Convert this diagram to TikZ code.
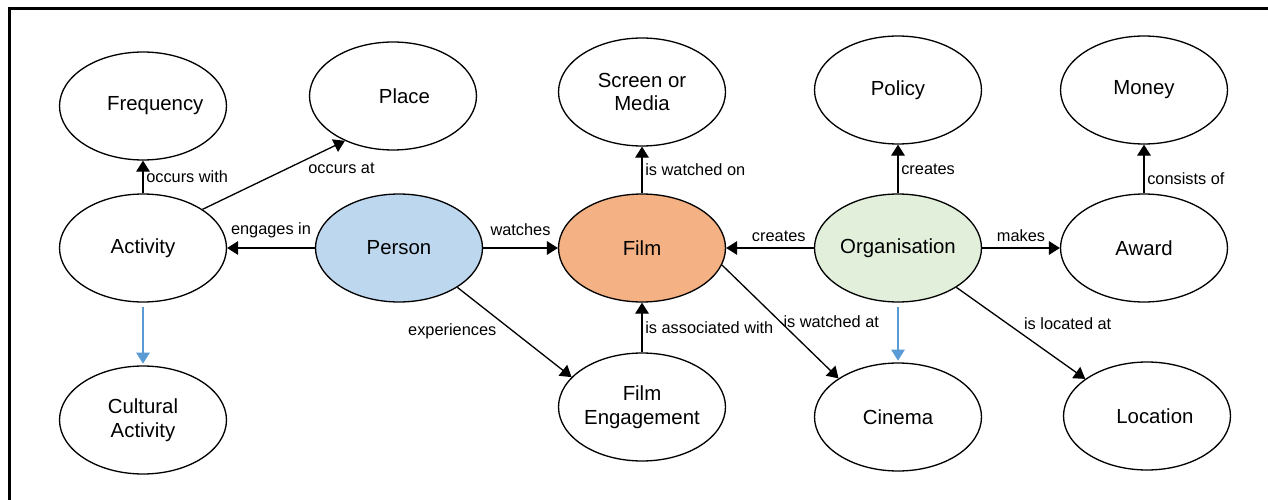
\documentclass[tikz,border=0pt]{standalone}
\usepackage{fontspec}
\setmainfont{Liberation Sans}
\usetikzlibrary{shapes.geometric,arrows.meta}
\definecolor{personblue}{RGB}{189,215,238}
\definecolor{filmorange}{RGB}{244,177,131}
\definecolor{orggreen}{RGB}{226,239,218}
\definecolor{isablue}{RGB}{91,155,213}

\begin{document}
\begin{tikzpicture}[x=0.02cm, y=-0.02cm,
  concept/.style={draw, ellipse, line width=0.75pt, minimum width=3.34cm,
    minimum height=2.16cm, inner xsep=-2pt, inner ysep=0pt, align=center,
    font=\fontsize{11.6}{13.5}\selectfont},
  rel/.style={-{Triangle[length=6.3pt,width=7.8pt]}, line width=0.75pt},
  isa/.style={rel, draw=isablue, fill=isablue, line width=0.6pt, shorten <=2.5pt, shorten >=1pt},
  lbl/.style={font=\fontsize{9.3}{11}\selectfont, inner sep=1.5pt}]
\useasboundingbox (0,0) rectangle (1268,500);
\draw [line width=1.7pt] (9.5,500) -- (9.5,8.5) -- (1268,8.5);

% concepts
\node [concept] (freq) at (143,106) {\makebox[0pt]{\hspace{14pt}Frequency}};
\node [concept] (place) at (393,96) {\makebox[0pt]{\hspace{13pt}Place}};
\node [concept] (screen) at (642,92) {Screen or\\Media};
\node [concept] (policy) at (898,90) {Policy};
\node [concept] (money) at (1144,90) {Money};
\node [concept] (activity) at (143,248) {Activity};
\node [concept, fill=personblue] (person) at (399,248) {Person};
\node [concept, fill=filmorange] (film) at (642,248) {Film};
\node [concept, fill=orggreen] (org) at (898,248) {Organisation};
\node [concept] (award) at (1144,248) {Award};
\node [concept] (cultural) at (143,420) {Cultural\\Activity};
\node [concept] (engage) at (642,407) {Film\\Engagement};
\node [concept] (cinema) at (898,417) {Cinema};
\node [concept] (location) at (1147,416) {\makebox[0pt]{\hspace{9pt}Location}};

% relations
\draw [rel] (activity) -- node[lbl, midway, right] {occurs with} (freq);
\draw [rel] (activity.33) -- node[lbl, pos=0.72, anchor=north west] {occurs at} (place.223);
\draw [rel] (person) -- node[lbl, midway, above=4pt] {engages in} (activity);
\draw [rel] (person) -- node[lbl, midway, above=5pt] {watches} (film);
\draw [rel] (org) -- node[lbl, pos=0.4, above=2pt] {creates} (film);
\draw [rel] (org) -- node[lbl, midway, above=2pt] {makes} (award);
\draw [rel] (film) -- node[lbl, midway, right] {is watched on} (screen);
\draw [rel] (org) -- node[lbl, midway, right] {creates} (policy);
\draw [rel] (award) -- node[lbl, pos=0.3, right] {consists of} (money);
\draw [rel] (engage) -- node[lbl, midway, right] {is associated with} (film);
\draw [rel] (person.326) -- node[lbl, pos=0.37, anchor=north east] {experiences} (engage.157);
\draw [rel] (film.348) -- node[lbl, midway, anchor=west] {is watched at} (cinema.147);
\draw [rel] (org.326) -- node[lbl, midway, anchor=south west] {is located at} (location.149);

% subclass links
\draw [isa] (activity) -- (cultural);
\draw [isa] (org) -- (cinema);

\end{tikzpicture}
\end{document}
